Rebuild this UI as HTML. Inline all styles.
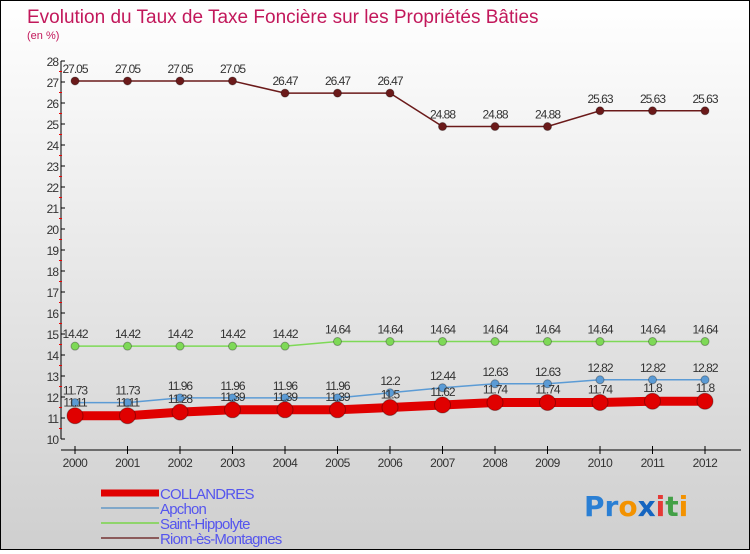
<!DOCTYPE html>
<html><head><meta charset="utf-8"><style>
html,body{margin:0;padding:0}
body{width:750px;height:550px;overflow:hidden;font-family:"Liberation Sans",sans-serif}
#wrap{position:relative;width:748px;height:548px;border:1px solid #000;background:linear-gradient(#ffffff,#cfcfcf)}
</style></head><body>
<div id="wrap">
<svg id="chart" width="748" height="548" viewBox="0 0 748 548">
<text x="26" y="22" font-size="19" fill="#c2185b">Evolution du Taux de Taxe Foncière sur les Propriétés Bâties</text>
<text x="26" y="38" font-size="11" fill="#c2185b">(en %)</text>
<g id="axes"></g><g id="series"></g><g id="legend"></g>
<text x="583" y="515" font-size="28" font-weight="bold" font-family="DejaVu Sans,sans-serif"><tspan fill="#2a7fd4">Pr</tspan><tspan fill="#f39200">o</tspan><tspan fill="#1565c0">x</tspan><tspan fill="#e53935">i</tspan><tspan fill="#43a047">t</tspan><tspan fill="#f39200">i</tspan></text>
</svg>
</div>
<script>
const years=["2000","2001","2002","2003","2004","2005","2006","2007","2008","2009","2010","2011","2012"];
const collandres=[11.11,11.11,11.28,11.39,11.39,11.39,11.5,11.62,11.74,11.74,11.74,11.8,11.8];
const apchon=[11.73,11.73,11.96,11.96,11.96,11.96,12.2,12.44,12.63,12.63,12.82,12.82,12.82];
const hippolyte=[14.42,14.42,14.42,14.42,14.42,14.64,14.64,14.64,14.64,14.64,14.64,14.64,14.64];
const riom=[27.05,27.05,27.05,27.05,26.47,26.47,26.47,24.88,24.88,24.88,25.63,25.63,25.63];
const yTicks=[10,11,12,13,14,15,16,17,18,19,20,21,22,23,24,25,26,27,28];
const NS="http://www.w3.org/2000/svg";
const X0=74,XS=52.5,Y10=438,YU=21;
const xs=i=>X0+i*XS, ys=v=>Y10-(v-10)*YU;
function mk(t,a,p){const e=document.createElementNS(NS,t);for(const k in a)e.setAttribute(k,a[k]);p.appendChild(e);return e;}
const ax=document.getElementById('axes');
let l=mk('line',{x1:60,y1:ys(28),x2:60,y2:ys(10),stroke:'#000'},ax);


l=mk('line',{x1:60,y1:449,x2:740,y2:449,stroke:'#000'},ax);


yTicks.forEach(v=>{
 mk('line',{x1:60,y1:ys(v),x2:64,y2:ys(v),stroke:'#000'},ax);
 if(v<28)mk('line',{x1:58,y1:ys(v+0.5),x2:61,y2:ys(v+0.5),stroke:'#e00'},ax);
 const t=mk('text',{x:57,y:ys(v)+5,'font-size':12,'text-anchor':'end',fill:'#333','letter-spacing':'-1'},ax);
 t.textContent=v;
 
 
});
years.forEach((y,i)=>{
 mk('line',{x1:xs(i),y1:445,x2:xs(i),y2:453,stroke:'#000'},ax);
 const t=mk('text',{x:xs(i),y:466,'font-size':12,'text-anchor':'middle',fill:'#333','letter-spacing':'-0.5'},ax);
 t.textContent=y;
 
 
});
const sg=document.getElementById('series');
function series(data,color,w,r,name,labelDy){
 const g=mk('g',{},sg);
 
 
 const p=mk('polyline',{points:data.map((v,i)=>xs(i)+','+ys(v)).join(' '),fill:'none',stroke:color,'stroke-width':w},g);
 
 
 data.forEach((v,i)=>{
  const c=mk('circle',{cx:xs(i),cy:ys(v),r:r,fill:color,stroke:'rgba(0,0,0,0.3)','stroke-width':1},g);
  
  
  const t=mk('text',{x:xs(i),y:ys(v)+labelDy,'font-size':12,'text-anchor':'middle',fill:'#333','letter-spacing':'-1'},g);
  t.textContent=String(v);
  
  
 });
}
series(riom,'#6b1a1a',1.5,4,'riom',-8);
series(hippolyte,'#7ed957',1.5,4,'saint-hippolyte',-8);
series(apchon,'#5b9bd5',1.5,4,'apchon',-8);
series(collandres,'#e00000',9,8,'collandres',-9);
const lg=document.getElementById('legend');
[['COLLANDRES','#e00000',7],['Apchon','#7fa7c9',2],['Saint-Hippolyte','#8fd46b',2],['Riom-ès-Montagnes','#8b5a5a',2]].forEach((d,i)=>{
 const y=492+i*15;
 const ln=mk('line',{x1:100,y1:y,x2:158,y2:y,stroke:d[1],'stroke-width':d[2]},lg);
 
 
 const t=mk('text',{x:159,y:y+6,'font-size':15,fill:'#5555ee','letter-spacing':'-0.8'},lg);
 t.textContent=d[0];
 
 
});
</script>
</body></html>
